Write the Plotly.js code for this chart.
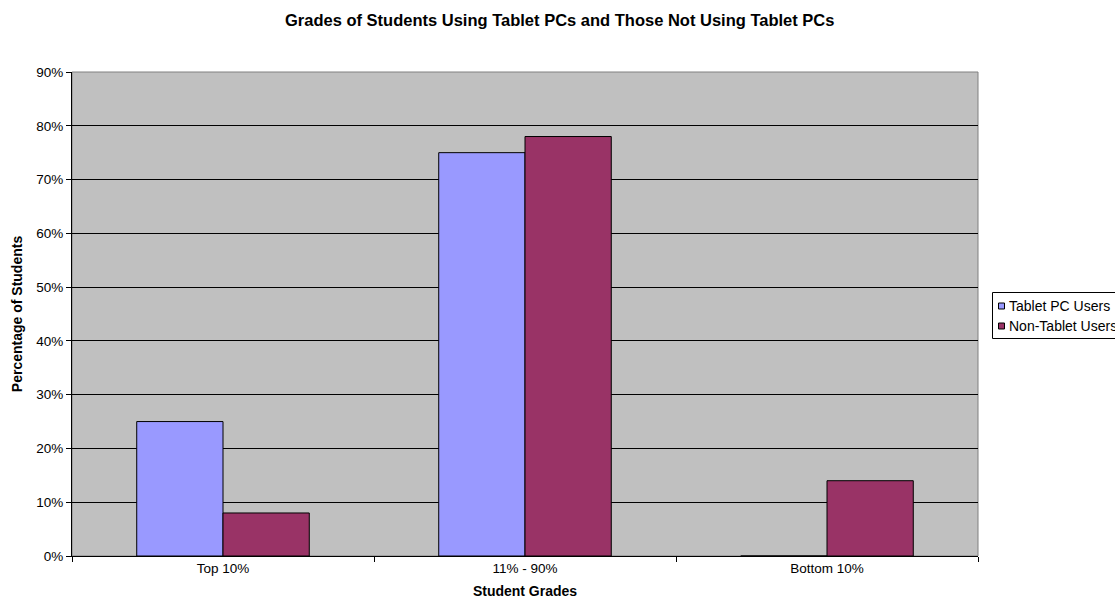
<!DOCTYPE html>
<html>
<head>
<meta charset="utf-8">
<script src="https://cdn.plot.ly/plotly-3.0.1.min.js"></script>
<style>html,body{margin:0;padding:0;background:#fff;}#chart{width:1115px;height:610px;}</style>
</head>
<body>
<div id="chart"></div>
<script>
const categories = ["Top 10%", "11% - 90%", "Bottom 10%"];
const tabletUsers = [0.25, 0.75, 0];
const nonTabletUsers = [0.08, 0.78, 0.14];
const seriesNames = ["Tablet PC Users", "Non-Tablet Users"];
const seriesColors = ["#9999FF", "#993366"];
const yTickVals = [0, 0.1, 0.2, 0.3, 0.4, 0.5, 0.6, 0.7, 0.8, 0.9];

const font = "Liberation Sans, Arial, sans-serif";
const data = [
  {type: "bar", name: seriesNames[0], x: categories, y: tabletUsers,
   marker: {color: seriesColors[0], line: {color: "#000", width: 1}}},
  {type: "bar", name: seriesNames[1], x: categories, y: nonTabletUsers,
   marker: {color: seriesColors[1], line: {color: "#000", width: 1}}}
];

// plot area in pixels: x 72..978, y 72..556
const PX = (px) => (px - 72) / 906;
const PY = (py) => (556 - py) / 484;

const shapes = [
  {type: "rect", xref: "paper", yref: "paper", x0: 0, x1: 1, y0: 0, y1: 1,
   line: {color: "#808080", width: 1}, layer: "below"},
  {type: "rect", xref: "paper", yref: "paper", x0: PX(992.5), x1: PX(1140), y0: PY(338.5), y1: PY(292.5),
   line: {color: "#000", width: 1}, fillcolor: "#fff"}
];
const annotations = [];
seriesNames.forEach((n, i) => {
  const cy = 306 + i * 20;
  shapes.push({type: "rect", xref: "paper", yref: "paper",
    x0: PX(998.5), x1: PX(1004.5), y0: PY(cy + 3), y1: PY(cy - 3),
    line: {color: "#000", width: 1}, fillcolor: seriesColors[i]});
  annotations.push({xref: "paper", yref: "paper", x: PX(1007), y: PY(cy), xanchor: "left", yanchor: "middle",
    text: n, showarrow: false, font: {family: font, size: 14, color: "#000"}});
});

const layout = {
  width: 1115, height: 610,
  margin: {l: 72, r: 137, t: 72, b: 54, autoexpand: false},
  paper_bgcolor: "#fff", plot_bgcolor: "#C0C0C0",
  font: {family: font, size: 13.5, color: "#000"},
  barmode: "group", bargap: 0.4286, bargroupgap: 0,
  showlegend: false,
  title: {text: "<b>Grades of Students Using Tablet PCs and Those Not Using Tablet PCs</b>",
          x: 0.502, xref: "container", xanchor: "center", y: 0.967, yref: "container", yanchor: "middle",
          font: {family: font, size: 16.5, color: "#000"}},
  xaxis: {title: {text: "<b>Student Grades</b>", font: {size: 14}, standoff: 10},
          showline: true, linecolor: "#000", linewidth: 1,
          ticks: "outside", tickson: "boundaries", ticklen: 5, tickcolor: "#000",
          showgrid: false, tickfont: {size: 13.5}},
  yaxis: {title: {text: "<b>Percentage of Students</b>", font: {size: 14}, standoff: 10},
          range: [0, 0.9], tickvals: yTickVals, tickformat: ".0%",
          showline: true, linecolor: "#000", linewidth: 1,
          ticks: "outside", ticklen: 5, tickcolor: "#000",
          showgrid: true, gridcolor: "#000", gridwidth: 1, zeroline: false, tickfont: {size: 13.5}},
  shapes: shapes,
  annotations: annotations
};
Plotly.newPlot("chart", data, layout, {staticPlot: true});
</script>
</body>
</html>
